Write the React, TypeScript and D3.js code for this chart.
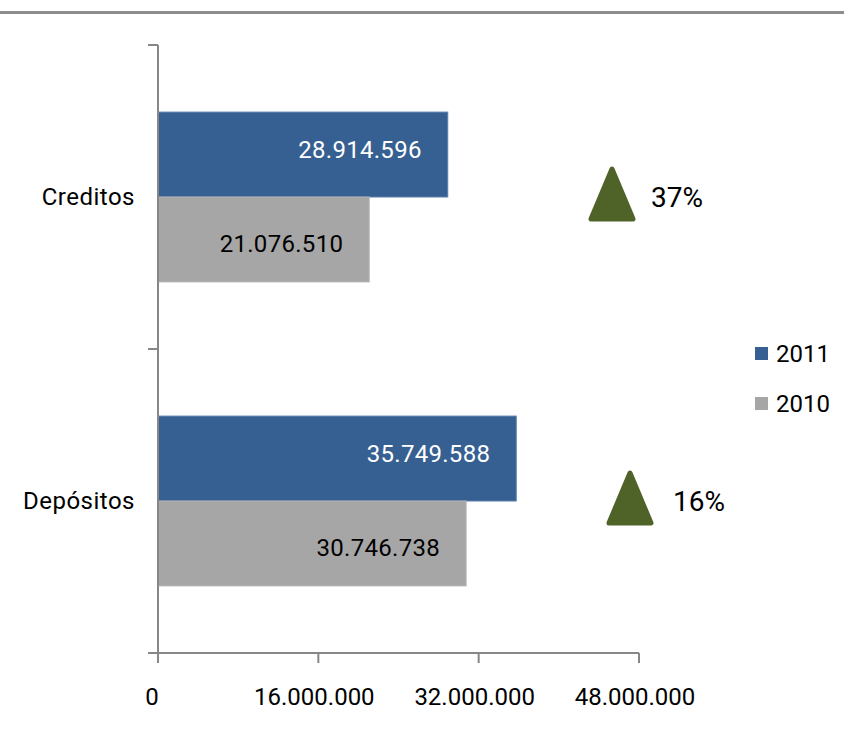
import React from "react";
import * as d3 from "d3";

const categories = ["Creditos", "Depósitos"];
const seriesNames = ["2011", "2010"];
const values2011 = [28914596, 35749588];
const values2010 = [21076510, 30746738];
const xTicks = [0, 16000000, 32000000, 48000000];

const W = 844;
const H = 741;
const FONT = "Roboto, 'Open Sans', sans-serif";
const BLUE = "#376092";
const GRAY = "#a6a6a6";
const AXIS = "#878787";
const GREEN = "#4f6228";

const locale = d3.formatLocale({ decimal: ",", thousands: ".", grouping: [3], currency: ["", ""] });
const fmt = locale.format(",d");

export default function App() {
  const x = d3.scaleLinear().domain([0, 48000000]).range([158, 639]);
  const y = d3.scaleBand<string>().domain(categories).range([45, 653]).padding(0);
  const bw = y.bandwidth();
  const sub = d3.scaleBand<string>().domain(seriesNames).range([0, bw]).paddingInner(0).paddingOuter(0.79);
  const seriesVals: Record<string, number[]> = { "2011": values2011, "2010": values2010 };
  const colors: Record<string, string> = { "2011": BLUE, "2010": GRAY };
  const labelShift: Record<string, number> = { "2011": -5, "2010": 5 };
  const triX = [612, 630];
  const pctX = [651, 673];

  const x0 = x(0);
  const axisY = 653;

  return (
    <svg width={W} height={H} style={{ position: "absolute", left: 0, top: 0 }} fontFamily={FONT}>
      <rect x={0} y={0} width={W} height={H} fill="#fff" />
      <line x1={0} x2={W} y1={12.5} y2={12.5} stroke="#8c8c8c" strokeWidth={3} />

      {/* bars */}
      {categories.map((c, i) =>
        seriesNames.map((s) => {
          const v = seriesVals[s][i];
          const by = (y(c) as number) + (sub(s) as number);
          const bh = sub.bandwidth();
          return (
            <g key={c + s}>
              <rect
                x={x0}
                y={by}
                width={x(v) - x0}
                height={bh}
                fill={colors[s]}
                stroke={s === "2011" ? "#5b7fad" : "#b4b4b4"}
                strokeWidth={1}
              />
              <text
                x={x(v) - 26}
                y={by + bh / 2 + labelShift[s]}
                textAnchor="end"
                dominantBaseline="central"
                fontSize={24}
                letterSpacing={0.3}
                fill={s === "2011" ? "#fff" : "#000"}
              >
                {fmt(v)}
              </text>
            </g>
          );
        })
      )}

      {/* y axis */}
      <line x1={x0} x2={x0} y1={45} y2={axisY + 10} stroke={AXIS} strokeWidth={2} />
      {[45, 45 + bw, 45 + 2 * bw].map((t, i) => (
        <line key={i} x1={x0 - 10} x2={x0} y1={t} y2={t} stroke={AXIS} strokeWidth={2} />
      ))}
      {categories.map((c) => (
        <text
          key={c}
          x={135}
          y={(y(c) as number) + bw / 2}
          textAnchor="end"
          dominantBaseline="central"
          fontSize={24}
          letterSpacing={0.5}
          fill="#000"
        >
          {c}
        </text>
      ))}

      {/* x axis */}
      <line x1={x0 - 10} x2={x(48000000)} y1={axisY} y2={axisY} stroke={AXIS} strokeWidth={2} />
      {xTicks.map((t) => (
        <g key={t}>
          <line x1={x(t)} x2={x(t)} y1={axisY} y2={axisY + 10} stroke={AXIS} strokeWidth={2} />
          <text
            x={x(t) - (t === 0 ? 6 : 4)}
            y={697}
            textAnchor="middle"
            dominantBaseline="central"
            fontSize={24}
            fill="#000"
          >
            {fmt(t)}
          </text>
        </g>
      ))}

      {/* change indicators */}
      {categories.map((c, i) => {
        const cy = (y(c) as number) + bw / 2 - 3;
        const cx = triX[i];
        const hw = 21;
        const hh = 25;
        const pct = Math.round((values2011[i] / values2010[i] - 1) * 100);
        return (
          <g key={"tri" + c}>
            <path
              d={`M${cx},${cy - hh} L${cx + hw},${cy + hh} L${cx - hw},${cy + hh} Z`}
              fill={GREEN}
              stroke={GREEN}
              strokeWidth={5}
              strokeLinejoin="round"
            />
            <text x={pctX[i]} y={cy + 3} dominantBaseline="central" fontSize={28} fill="#000">
              {pct}%
            </text>
          </g>
        );
      })}

      {/* legend */}
      {seriesNames.map((s, i) => (
        <g key={"lg" + s} transform={`translate(755, ${347 + i * 50})`}>
          <rect x={0} y={0} width={13} height={13} fill={colors[s]} />
          <text x={21} y={7} dominantBaseline="central" fontSize={24} fill="#000">
            {s}
          </text>
        </g>
      ))}
    </svg>
  );
}
